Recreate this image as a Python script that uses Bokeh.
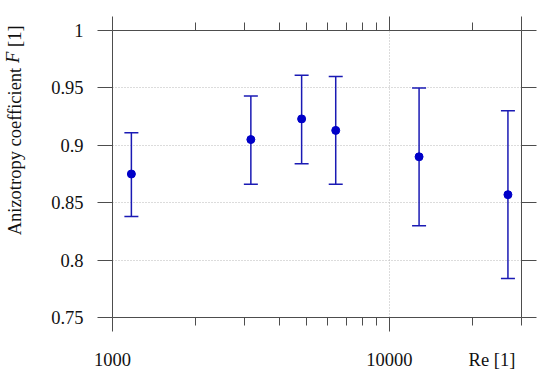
from bokeh.plotting import figure
from bokeh.models import (Range1d, FixedTicker, LogAxis, LinearAxis, Whisker, TeeHead,
                          ColumnDataSource)
from bokeh.embed import file_html
from bokeh.resources import INLINE

# ---- data ----
re_values = [1170, 3160, 4820, 6400, 12800, 26800]
f_values = [0.875, 0.905, 0.923, 0.913, 0.890, 0.857]
f_upper = [0.911, 0.943, 0.961, 0.960, 0.950, 0.930]
f_lower = [0.838, 0.866, 0.884, 0.866, 0.830, 0.784]

x_major = [1000, 10000]
x_minor = [2000, 3000, 4000, 5000, 6000, 7000, 8000, 9000, 20000, 30000]
x_tick_labels = {1000: "1000", 10000: "10000"}
x_title = "Re [1]"
y_ticks = [0.75, 0.8, 0.85, 0.9, 0.95, 1.0]
y_grid = [0.8, 0.85, 0.9, 0.95]
y_title_parts = ["Anizotropy coefficient", "F", "[1]"]  # "F" is italic

FONT = "Liberation Serif"
FS = 18.5
FSIZE = "18.5px"
AXC = "#4d4d4d"
TXT = "#111111"
BLUE_LINE = "#1a1ab4"
BLUE_DOT = "#0000c8"

# frame geometry in screen pixels (for placing title pieces)
FRAME_TOP, FRAME_BOTTOM = 30, 317
Y0, Y1 = 0.75, 1.0


def y_at(py):
    return Y1 - (py - FRAME_TOP) * (Y1 - Y0) / (FRAME_BOTTOM - FRAME_TOP)


p = figure(width=542, height=372, x_axis_type="log", output_backend="svg", toolbar_location=None,
           x_range=Range1d(1000, 30000), y_range=Range1d(Y0, Y1),
           min_border_left=111, min_border_right=21, min_border_top=30, min_border_bottom=55,
           background_fill_color="white", border_fill_color="white")
p.outline_line_color = None


def style_axis(ax):
    ax.axis_line_color = AXC
    ax.axis_line_width = 1
    ax.major_tick_line_color = AXC
    ax.minor_tick_line_color = AXC
    ax.major_tick_in = 0
    ax.minor_tick_in = 0
    ax.major_label_text_font = FONT
    ax.major_label_text_color = TXT
    ax.major_label_text_font_size = FSIZE


def hide_labels(ax):
    ax.major_label_text_color = None
    ax.major_label_text_font_size = "0px"
    ax.major_label_standoff = 0


def text_only(ax):
    style_axis(ax)
    ax.axis_line_color = None
    ax.major_tick_line_color = None
    ax.minor_tick_line_color = None
    ax.major_tick_out = 0
    ax.minor_tick_out = 0


# bottom: line + ticks only
bx = p.xaxis[0]
bx.ticker = FixedTicker(ticks=x_major, minor_ticks=x_minor)
style_axis(bx)
hide_labels(bx)
bx.major_tick_out = 14
bx.minor_tick_out = 8

# bottom labels row (tick labels + x title on one line)
x_title_pos = 10 ** (4 + (492 - 389) / 278.0)
lab_text = dict(x_tick_labels)
lab_text[x_title_pos] = x_title
bx2 = LogAxis(ticker=FixedTicker(ticks=x_major + [x_title_pos], minor_ticks=[]),
              major_label_overrides=lab_text)
text_only(bx2)
bx2.major_label_standoff = 18
p.add_layout(bx2, "below")

# left: ticks + numbers
ly = p.yaxis[0]
ly.ticker = FixedTicker(ticks=y_ticks, minor_ticks=[])
style_axis(ly)
ly.major_tick_out = 15
ly.major_label_standoff = 14

# left title pieces (Times-metric widths, em units)
w_main = 9.081 * FS      # "Anizotropy coefficient"
w_sp = 0.25 * FS
w_F = 0.611 * FS
w_br = 1.166 * FS        # "[1]"
total = w_main + w_sp + w_F + w_sp + w_br
start = 130 + total / 2.0
c_main = start - w_main / 2.0
c_F = start - w_main - w_sp - w_F / 2.0
c_br = start - w_main - w_sp - w_F - w_sp - w_br / 2.0

pos_main, pos_F, pos_br = y_at(c_main), y_at(c_F), y_at(c_br)
ty = LinearAxis(ticker=FixedTicker(ticks=[pos_main, pos_br], minor_ticks=[]),
                major_label_overrides={pos_main: y_title_parts[0], pos_br: y_title_parts[2]},
                major_label_orientation="vertical")
text_only(ty)
ty.major_label_standoff = 23
p.add_layout(ty, "left")

tf = LinearAxis(ticker=FixedTicker(ticks=[pos_F], minor_ticks=[]),
                major_label_overrides={pos_F: y_title_parts[1]},
                major_label_orientation="vertical")
text_only(tf)
tf.major_label_text_font_style = "italic"
tf.major_label_standoff = -21
p.add_layout(tf, "left")

# top
tx = LogAxis(ticker=FixedTicker(ticks=[1000, 10000, 30000],
                                minor_ticks=[t for t in x_minor if t != 30000]))
style_axis(tx)
hide_labels(tx)
tx.major_tick_out = 14
tx.minor_tick_out = 8
p.add_layout(tx, "above")

# right
ry = LinearAxis(ticker=FixedTicker(ticks=y_ticks, minor_ticks=[]))
style_axis(ry)
hide_labels(ry)
ry.major_tick_out = 15
p.add_layout(ry, "right")

# grids
p.xgrid.ticker = FixedTicker(ticks=[10000])
p.ygrid.ticker = FixedTicker(ticks=y_grid)
for g in (p.xgrid[0], p.ygrid[0]):
    g.grid_line_color = "#b8b8b8"
    g.grid_line_dash = "1 2"
    g.grid_line_width = 1

src = ColumnDataSource(dict(re=re_values, f=f_values, up=f_upper, lo=f_lower))
wh = Whisker(source=src, base="re", upper="up", lower="lo", dimension="height",
             line_color=BLUE_LINE, line_width=1.5,
             upper_head=TeeHead(size=14, line_color=BLUE_LINE, line_width=1.5),
             lower_head=TeeHead(size=14, line_color=BLUE_LINE, line_width=1.5))
p.add_layout(wh)
p.scatter("re", "f", source=src, size=8, color=BLUE_DOT, line_color=BLUE_DOT)

open("out.html", "w").write(file_html(p, INLINE))
